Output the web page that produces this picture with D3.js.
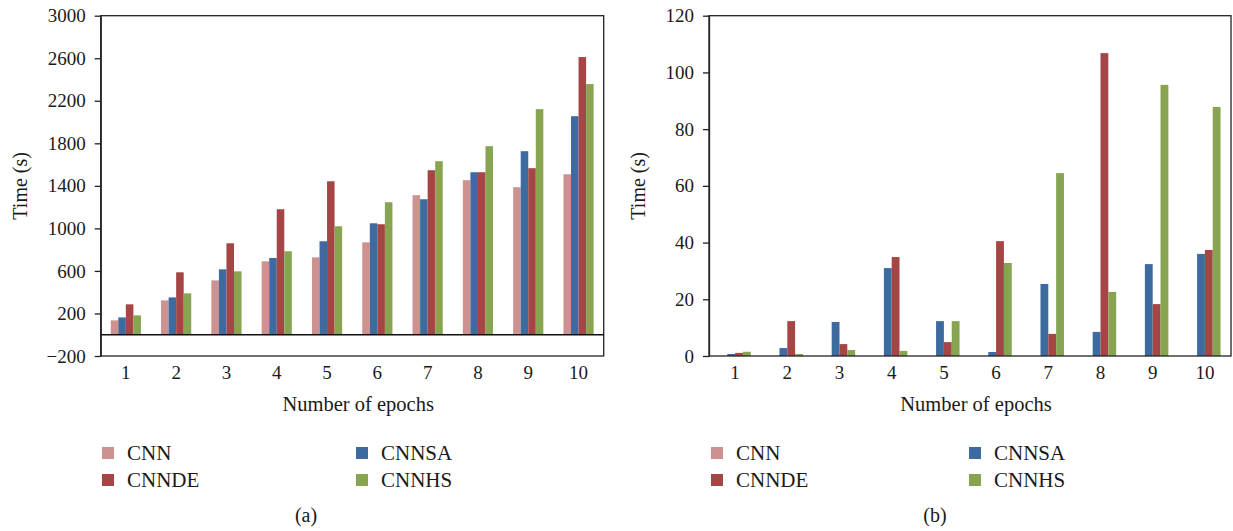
<!DOCTYPE html>
<html>
<head>
<meta charset="utf-8">
<script src="https://cdn.jsdelivr.net/npm/d3@7"></script>
<style>
  body { margin: 0; background: #fff; }
  svg text { font-family: "Liberation Serif", "DejaVu Serif", serif; fill: #1a1a1a; }
</style>
</head>
<body>
<svg id="chart" width="1233" height="531"></svg>
<script>
const epochs = [1, 2, 3, 4, 5, 6, 7, 8, 9, 10];
const seriesNames = ["CNN", "CNNSA", "CNNDE", "CNNHS"];
const seriesColors = ["#cd9190", "#3d6b9f", "#a54545", "#87a451"];

// panel (a), training time
const cnnA   = [135, 323, 511, 690, 728, 869, 1312, 1453, 1387, 1509];
const cnnsaA = [163, 351, 615, 722, 879, 1048, 1274, 1528, 1726, 2055];
const cnndeA = [286, 587, 860, 1180, 1443, 1039, 1547, 1528, 1566, 2611];
const cnnhsA = [182, 389, 596, 785, 1020, 1246, 1632, 1773, 2121, 2357];
const yTicksA = [-200, 200, 600, 1000, 1400, 1800, 2200, 2600, 3000];

// panel (b)
const cnnB   = [0, 0, 0, 0, 0, 0, 0, 0, 0, 0];
const cnnsaB = [0.7, 2.8, 12.0, 31.0, 12.3, 1.4, 25.4, 8.5, 32.4, 36.0];
const cnndeB = [1.1, 12.3, 4.2, 34.9, 4.9, 40.5, 7.8, 106.8, 18.3, 37.4];
const cnnhsB = [1.5, 0.7, 2.1, 1.8, 12.3, 32.8, 64.5, 22.6, 95.6, 87.8];
const yTicksB = [0, 20, 40, 60, 80, 100, 120];

const svg = d3.select("#chart");
const fontSize = 19;

const drawPanel = (opt) => {
  const g = svg.append("g");
  const x = d3.scaleBand().domain(epochs).range([opt.left, opt.right]).paddingInner(0.4).paddingOuter(0.2);
  const xs = d3.scaleBand().domain(seriesNames).range([0, x.bandwidth()]);
  const y = d3.scaleLinear().domain(opt.yDomain).range([opt.bottom, opt.top]);

  // bars
  opt.values.forEach((vals, si) => {
    g.append("g").selectAll("rect").data(vals).enter().append("rect")
      .attr("x", (d, i) => x(epochs[i]) + xs(seriesNames[si]))
      .attr("width", xs.bandwidth())
      .attr("y", d => y(Math.max(d, 0)))
      .attr("height", d => Math.abs(y(d) - y(0)))
      .attr("fill", seriesColors[si]);
  });

  // frame
  g.append("rect")
    .attr("x", opt.left).attr("y", opt.top)
    .attr("width", opt.right - opt.left).attr("height", opt.bottom - opt.top)
    .attr("fill", "none").attr("stroke", "#222").attr("stroke-width", 1.3);

  if (opt.yDomain[0] < 0) {
    g.append("line")
      .attr("x1", opt.left).attr("x2", opt.right)
      .attr("y1", y(0)).attr("y2", y(0))
      .attr("stroke", "#111").attr("stroke-width", 1.3);
  }

  const yAxis = g.append("g").attr("transform", `translate(${opt.left},0)`)
    .call(d3.axisLeft(y).tickValues(opt.yTicks).tickSize(6).tickSizeOuter(0).tickPadding(9)
      .tickFormat(d => d < 0 ? "\u2212" + Math.abs(d) : d));
  yAxis.select(".domain").attr("stroke", "#222").attr("stroke-width", 1.3);
  yAxis.selectAll(".tick line").attr("stroke", "#222").attr("stroke-width", 1.3);
  yAxis.selectAll("text").attr("font-size", fontSize).attr("font-family", null);

  const xAxis = g.append("g").attr("transform", `translate(0,${opt.bottom})`)
    .call(d3.axisBottom(x).tickSize(0).tickPadding(10));
  xAxis.select(".domain").remove();
  xAxis.selectAll("text").attr("font-size", fontSize).attr("font-family", null);

  // axis titles
  g.append("text")
    .attr("transform", `translate(${opt.yTitleX},${(opt.top + opt.bottom) / 2}) rotate(-90)`)
    .attr("text-anchor", "middle").attr("font-size", 20)
    .text("Time (s)");
  g.append("text")
    .attr("x", (opt.left + opt.right) / 2 + 6).attr("y", 411)
    .attr("text-anchor", "middle").attr("font-size", 20.5)
    .text("Number of epochs");

  // legend
  const legend = g.append("g").selectAll("g").data(seriesNames).enter().append("g")
    .attr("transform", (d, i) => {
      const col = i === 1 || i === 3 ? 1 : 0;
      const row = i >= 2 ? 1 : 0;
      return `translate(${opt.legendX[col]},${447 + row * 27})`;
    });
  legend.append("rect").attr("width", 12).attr("height", 12).attr("fill", (d, i) => seriesColors[i]);
  legend.append("text").attr("x", 25).attr("y", 12.5).attr("font-size", 21).text(d => d);

  g.append("text")
    .attr("x", opt.captionX).attr("y", 522)
    .attr("text-anchor", "middle").attr("font-size", 20)
    .text(opt.caption);
};

drawPanel({
  left: 100.7, right: 603.7, top: 15.7, bottom: 356,
  yDomain: [-200, 3000], yTicks: yTicksA,
  values: [cnnA, cnnsaA, cnndeA, cnnhsA],
  yTitleX: 27, legendX: [102, 356], captionX: 306, caption: "(a)"
});

drawPanel({
  left: 709, right: 1231, top: 15.7, bottom: 356,
  yDomain: [0, 120], yTicks: yTicksB,
  values: [cnnB, cnnsaB, cnndeB, cnnhsB],
  yTitleX: 645, legendX: [711, 969], captionX: 935, caption: "(b)"
});
</script>
</body>
</html>
